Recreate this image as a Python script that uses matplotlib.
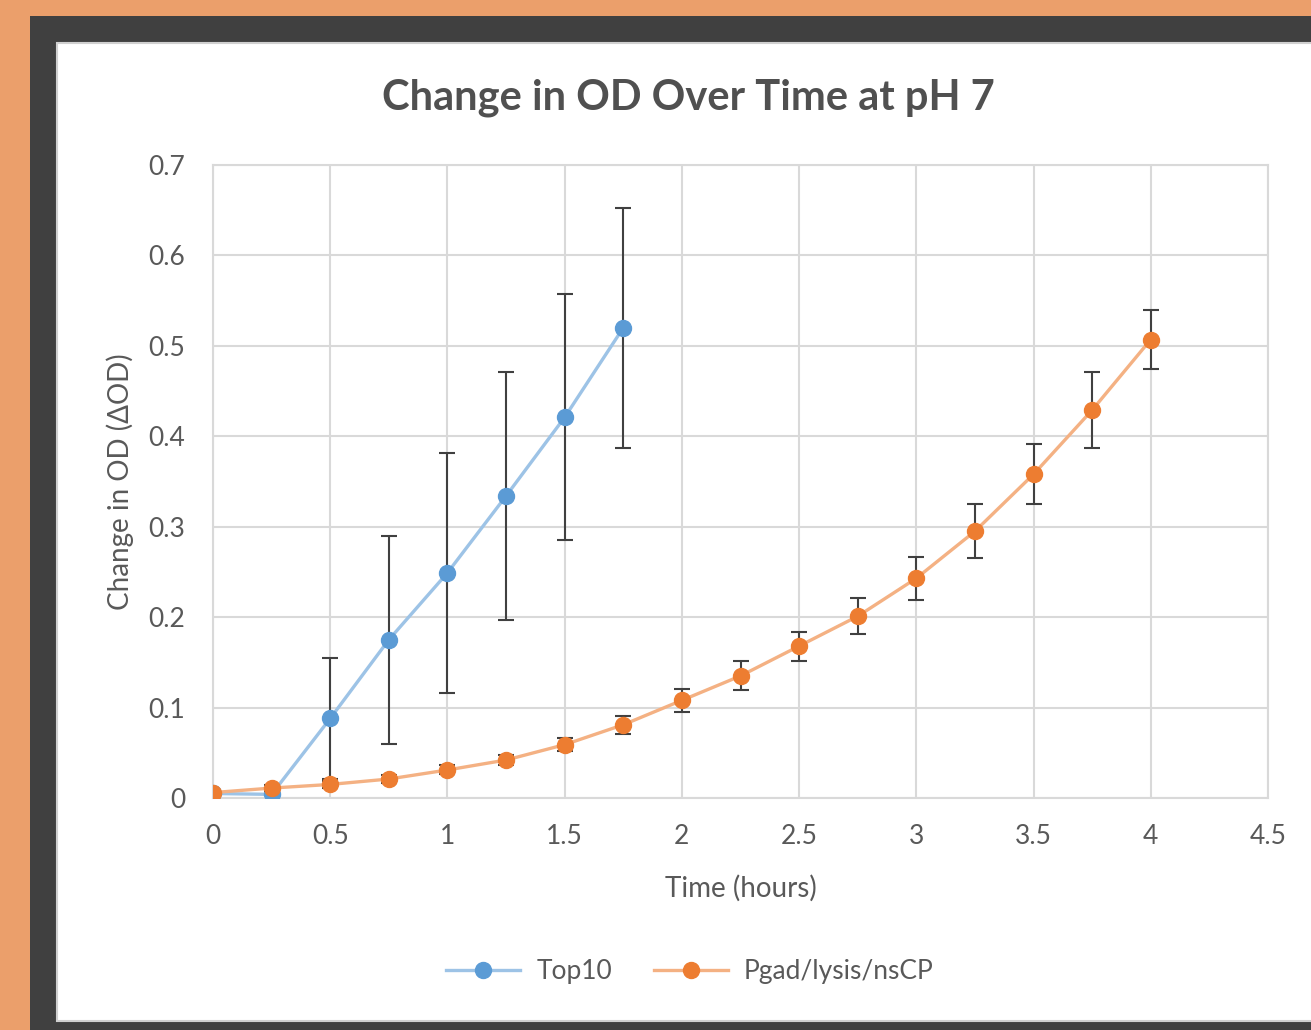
import matplotlib
matplotlib.use("Agg")
from matplotlib import pyplot as plt
from matplotlib.patches import Rectangle
from matplotlib.lines import Line2D

plt.rcParams['font.family'] = ['Lato', 'DejaVu Sans']

# Top10 strain
top10_t = [0, 0.25, 0.5, 0.75, 1.0, 1.25, 1.5, 1.75]
top10_od = [0.005, 0.004, 0.088, 0.175, 0.249, 0.334, 0.421, 0.520]
top10_err = [0.0, 0.0, 0.067, 0.115, 0.133, 0.137, 0.136, 0.133]

# Pgad/lysis/nsCP strain
pgad_t = [0, 0.25, 0.5, 0.75, 1.0, 1.25, 1.5, 1.75, 2.0, 2.25, 2.5, 2.75,
          3.0, 3.25, 3.5, 3.75, 4.0]
pgad_od = [0.006, 0.011, 0.015, 0.021, 0.031, 0.042, 0.059, 0.081, 0.108,
           0.135, 0.168, 0.201, 0.243, 0.295, 0.358, 0.429, 0.507]
pgad_err = [0.002, 0.003, 0.004, 0.004, 0.005, 0.005, 0.007, 0.010, 0.013,
            0.016, 0.016, 0.020, 0.024, 0.030, 0.033, 0.042, 0.033]

xticks = [0, 0.5, 1, 1.5, 2, 2.5, 3, 3.5, 4, 4.5]
yticks = [0, 0.1, 0.2, 0.3, 0.4, 0.5, 0.6, 0.7]

W, H = 1311, 1030
fig = plt.figure(figsize=(W / 100, H / 100), dpi=100)
fig.patch.set_facecolor("#404040")

# frame: orange page, dark border, white chart area
fig.patches.append(Rectangle((0, 0), 30 / W, 1, transform=fig.transFigure,
                             facecolor="#EB9F6B", edgecolor="none", zorder=-3))
fig.patches.append(Rectangle((0, 1 - 16 / H), 1, 16 / H, transform=fig.transFigure,
                             facecolor="#EB9F6B", edgecolor="none", zorder=-3))
fig.patches.append(Rectangle((57 / W, 9 / H), 1, (1030 - 43 - 9) / H,
                             transform=fig.transFigure, facecolor="white",
                             edgecolor="#D0D0D0", linewidth=1.5, zorder=-2))

ax = fig.add_axes([213 / W, 1 - 798 / H, (1268 - 213) / W, (798 - 165) / H])
ax.set_facecolor("white")

styles = [
    ("Top10", top10_t, top10_od, top10_err, "#9DC3E6", "#5B9BD5"),
    ("Pgad/lysis/nsCP", pgad_t, pgad_od, pgad_err, "#F4B183", "#ED7D31"),
]
handles = []
for z, (name, t, od, err, lc, mc) in enumerate(styles):
    ax.errorbar(t, od, yerr=err, color=lc, lw=2.4, marker="o", ms=11.5,
                mfc=mc, mec=mc, ecolor="#404040", elinewidth=1.5, capsize=6,
                capthick=1.5, zorder=3 + z)
    handles.append(Line2D([], [], color=lc, lw=2.4, marker="o", ms=11.5,
                          mfc=mc, mec=mc, label=name))

ax.set_xlim(0, 4.5)
ax.set_ylim(0, 0.7)
ax.set_xticks(xticks)
ax.set_yticks(yticks)
ax.set_xticklabels([f"{v:g}" for v in xticks])
ax.set_yticklabels([f"{v:g}" for v in yticks])
ax.tick_params(length=0, labelsize=19, colors="#595959")
ax.tick_params(axis="x", pad=19)
ax.tick_params(axis="y", pad=20)
ax.grid(True, color="#D9D9D9", lw=1.5)
ax.set_axisbelow(True)
for s in ax.spines.values():
    s.set_color("#D9D9D9")
    s.set_linewidth(1.5)

ax.set_xlabel("Time (hours)", fontsize=20, color="#595959", labelpad=18)
ax.set_ylabel("Change in OD (ΔOD)", fontsize=20, color="#595959", labelpad=10)

fig.text(688 / W, 1 - 98 / H, "Change in OD Over Time at pH 7", fontsize=30,
         fontweight="bold", color="#505050", ha="center", va="center")

fig.legend(handles=handles, loc="center", bbox_to_anchor=(690 / W, 1 - 972 / H),
           ncol=2, frameon=False, fontsize=19, labelcolor="#595959",
           handlelength=2.8, columnspacing=1.6, handletextpad=0.6)

fig.savefig("out.png", dpi=100, facecolor=fig.get_facecolor())
